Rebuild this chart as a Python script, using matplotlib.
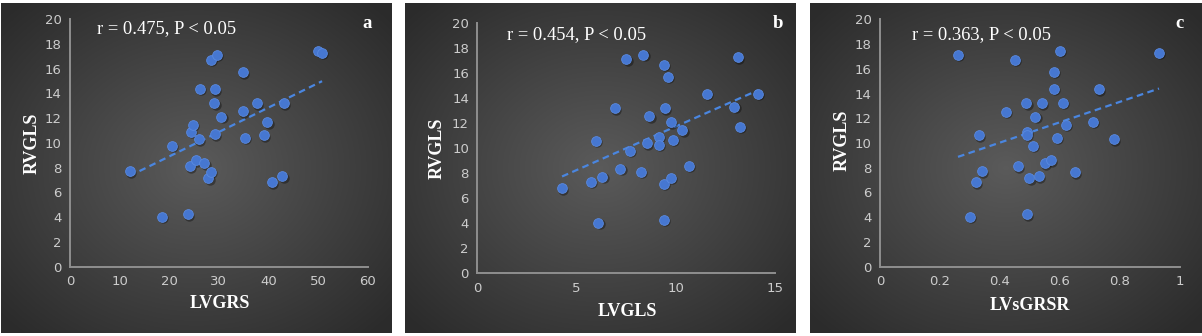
import matplotlib.pyplot as plt
import matplotlib.transforms as mtransforms
import numpy as np

# RVGLS vs three LV strain indices
lvgrs = [12.0, 18.6, 20.5, 23.8, 24.2, 24.4, 24.8, 25.3, 26.0, 26.2, 27.1, 27.9, 28.35, 28.35, 29.6,
         29.1, 29.2, 29.2, 30.5, 34.9, 34.8, 35.3, 37.6, 39.0, 39.8, 40.7, 42.8, 43.1, 50.0, 50.8]
rvgls_a = [7.7, 4.04, 9.77, 4.25, 8.1, 10.9, 11.47, 8.59, 10.28, 14.37, 8.37, 7.13, 7.67, 16.69, 17.12,
           13.2, 14.32, 10.69, 12.11, 15.72, 12.54, 10.42, 13.19, 10.6, 11.68, 6.81, 7.32, 13.19, 17.44, 17.28]

lvgls = [4.27, 5.71, 5.98, 6.10, 6.30, 6.94, 7.21, 7.51, 7.69, 8.26, 8.37, 8.53, 8.67, 9.17, 9.17,
         9.42, 9.47, 9.41, 9.41, 9.59, 9.74, 9.74, 9.84, 10.33, 10.65, 11.57, 12.95, 13.12, 13.22, 14.14]
rvgls_b = [6.8, 7.33, 10.59, 4.05, 7.73, 13.2, 8.35, 17.12, 9.79, 8.13, 17.47, 10.4, 12.56, 10.91, 10.27,
           16.67, 13.2, 7.17, 4.27, 15.73, 12.08, 7.65, 10.69, 11.44, 8.61, 14.35, 13.31, 17.28, 11.71, 14.35]

lvsgrsr = [0.26, 0.30, 0.32, 0.33, 0.339, 0.419, 0.449, 0.459, 0.488, 0.489, 0.49, 0.489, 0.498, 0.51, 0.518,
           0.529, 0.539, 0.55, 0.57, 0.58, 0.58, 0.589, 0.60, 0.61, 0.619, 0.65, 0.71, 0.73, 0.78, 0.93]
rvgls_c = [17.14, 4.04, 6.82, 10.62, 7.71, 12.53, 16.71, 8.11, 13.2, 10.92, 10.65, 4.26, 7.17, 9.78, 12.13,
           7.33, 13.2, 8.38, 8.6, 15.74, 14.39, 10.43, 17.47, 13.26, 11.48, 7.65, 11.7, 14.34, 10.3, 17.3]

x_labels = ['LVGRS', 'LVGLS', 'LVsGRSR']
letters = ['a', 'b', 'c']
r_texts = ['r = 0.475, P < 0.05', 'r = 0.454, P < 0.05', 'r = 0.363, P < 0.05']
xlims = [(0, 60), (0, 15), (0, 1)]
xticks = [[0, 10, 20, 30, 40, 50, 60], [0, 5, 10, 15], [0, 0.2, 0.4, 0.6, 0.8, 1]]
xticklabels = [['0', '10', '20', '30', '40', '50', '60'], ['0', '5', '10', '15'],
               ['0', '0.2', '0.4', '0.6', '0.8', '1']]

W, H = 1202, 336
fig = plt.figure(figsize=(W / 100, H / 100), dpi=100)
fig.patch.set_facecolor('white')


def fx(px):
    return px / W


def fy(py):
    return 1 - py / H


# panel boxes (left, right, top, bottom) in pixels
panels = [(1, 392, 3, 333), (405, 796, 3, 333), (810, 1202, 3, 333)]
# axes rectangles (x0, x_end, y_top, y_zero) in pixels
axrects = [(70, 367.7, 19, 266.7), (477.3, 775, 23.3, 273.3), (880, 1180, 19.3, 266.7)]
rtext_pos = [(97, 29), (507, 35), (912, 35)]
letter_pos = [(367, 23), (778, 23), (1180, 23)]
ylabel_pos = [(32, 143), (437, 148), (842, 140)]
xlabel_pos = [(220, 304), (627, 312), (1030, 305)]

# radial gradient for the dark background
gx, gy = np.meshgrid(np.linspace(-1, 1, 300), np.linspace(-1, 1, 260))
rad = np.clip(np.sqrt(gx ** 2 + gy ** 2) / 1.35, 0, 1)
center, edge = np.array([0.355, 0.355, 0.355]), np.array([0.17, 0.17, 0.17])
grad = center[None, None, :] * (1 - rad[..., None]) + edge[None, None, :] * rad[..., None]

xs = [lvgrs, lvgls, lvsgrsr]
ys = [rvgls_a, rvgls_b, rvgls_c]

for i in range(3):
    l, r, t, b = panels[i]
    bg = fig.add_axes([fx(l), fy(b), fx(r - l), (b - t) / H])
    bg.imshow(grad, aspect='auto', extent=[0, 1, 0, 1])
    bg.axis('off')

    x0, x1, yt, y0 = axrects[i]
    ax = fig.add_axes([fx(x0), fy(y0), fx(x1 - x0), (y0 - yt) / H])
    ax.set_facecolor('none')
    x = np.array(xs[i])
    y = np.array(ys[i])

    # fitted linear trend
    k, c = np.polyfit(x, y, 1)
    xx = np.array([x.min(), x.max()])
    ax.plot(xx, k * xx + c, linestyle=(0, (3, 2)), color='#4a86e0', linewidth=1.6, zorder=2)

    shadow = mtransforms.offset_copy(ax.transData, fig=fig, x=1.2, y=-1.5, units='dots')
    ax.plot(x, y, 'o', color='black', alpha=0.35, markersize=7.5, markeredgewidth=0,
            transform=shadow, zorder=3)
    ax.plot(x, y, 'o', color='#4677d1', markersize=7, markeredgecolor='#5a8ae0',
            markeredgewidth=0.6, zorder=4)

    ax.set_xlim(*xlims[i])
    ax.set_ylim(0, 20)
    ax.set_xticks(xticks[i])
    ax.set_xticklabels(xticklabels[i])
    ax.set_yticks(range(0, 21, 2))
    ax.tick_params(length=0, colors='#cccccc', labelsize=9.5, pad=6)
    for s in ['top', 'right']:
        ax.spines[s].set_visible(False)
    for s in ['left', 'bottom']:
        ax.spines[s].set_color('#8f8f8f')
        ax.spines[s].set_linewidth(1.4)

    fig.text(fx(rtext_pos[i][0]), fy(rtext_pos[i][1]), r_texts[i], color='white',
             family='Liberation Serif', fontsize=13.3, ha='left', va='center')
    fig.text(fx(letter_pos[i][0]), fy(letter_pos[i][1]), letters[i], color='white',
             family='Liberation Serif', fontweight='bold', fontsize=13.5, ha='center', va='center')
    fig.text(fx(ylabel_pos[i][0]), fy(ylabel_pos[i][1]), 'RVGLS', color='white', rotation=90,
             family='Liberation Serif', fontweight='bold', fontsize=13, ha='center', va='center')
    fig.text(fx(xlabel_pos[i][0]), fy(xlabel_pos[i][1]), x_labels[i], color='white',
             family='Liberation Serif', fontweight='bold', fontsize=13, ha='center', va='center')

fig.savefig('out.png', dpi=100, facecolor='white')
